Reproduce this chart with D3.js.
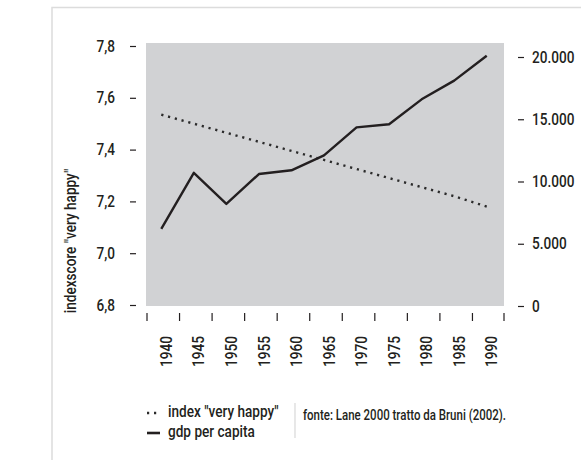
<!DOCTYPE html>
<html>
<head>
<meta charset="utf-8">
<script src="https://cdn.jsdelivr.net/npm/d3@7"></script>
<style>
  body { margin: 0; background: #fff; }
  text { font-family: Roboto, "DejaVu Sans", sans-serif; font-weight: 500; fill: #231f20; }
</style>
</head>
<body>
<div class="chart"></div>
<script>
// data
let years = [1940, 1945, 1950, 1955, 1960, 1965, 1970, 1975, 1980, 1985, 1990];
let happy = [7.535, 7.50, 7.465, 7.43, 7.395, 7.36, 7.325, 7.29, 7.255, 7.22, 7.18];
let gdp = [6200, 10700, 8200, 10600, 10900, 12100, 14350, 14600, 16600, 18100, 20100];
let leftTicks = [6.8, 7.0, 7.2, 7.4, 7.6, 7.8];
let rightTicks = [0, 5000, 10000, 15000, 20000];
let legendLabels = ["index \"very happy\"", "gdp per capita"];
let sourceLabel = "fonte: Lane 2000 tratto da Bruni (2002).";
let yTitle = "indexscore \"very happy\"";

let it = d3.formatLocale({ decimal: ",", thousands: ".", grouping: [3], currency: ["", "€"] });
let fmtLeft = it.format(".1f");
let fmtRight = it.format(",.0f");

let plot = { left: 146, right: 504, top: 43, bottom: 306 };

let svg = d3
    .select(".chart")
    .append("svg")
    .attr("width", 581)
    .attr("height", 460);

// light frame
svg.append("path")
    .attr("d", "M52,460 V7.5 H581")
    .attr("fill", "none")
    .attr("stroke", "#dcdcdc")
    .attr("stroke-width", 1.5);

let x = d3
    .scaleBand()
    .domain(years)
    .range([plot.left, plot.right]);

let yL = d3
    .scaleLinear()
    .domain([6.8, 7.8])
    .range([305, 46]);

let yR = d3
    .scaleLinear()
    .domain([0, 20000])
    .range([306, 57]);

svg.append("rect")
    .attr("x", plot.left)
    .attr("y", plot.top)
    .attr("width", plot.right - plot.left)
    .attr("height", plot.bottom - plot.top)
    .attr("fill", "#d1d2d4");

// left axis
let gl = svg.append("g")
    .attr("transform", "translate(136,0)")
    .call(d3.axisLeft(yL).tickValues(leftTicks).tickFormat(fmtLeft).tickSize(6).tickPadding(15));

// right axis
let gr = svg.append("g")
    .attr("transform", "translate(518,0)")
    .call(d3.axisRight(yR).tickValues(rightTicks).tickFormat(fmtRight).tickSize(6).tickPadding(8));

// bottom axis: labels at band centres, ticks at band edges
let gb = svg.append("g")
    .attr("transform", "translate(0,313)")
    .call(d3.axisBottom(x).tickSize(0).tickPadding(0));

gb.selectAll(".tick text")
    .attr("transform", "rotate(-90)")
    .attr("x", -23)
    .attr("y", 4)
    .attr("dy", "0.35em")
    .attr("text-anchor", "end");

gb.selectAll(".edge")
    .data(years.map(d => x(d)).concat([x.range()[1] - 1]))
    .enter()
    .append("line")
    .attr("class", "edge")
    .attr("x1", d => d + 1)
    .attr("x2", d => d + 1)
    .attr("y1", 0)
    .attr("y2", 8)
    .attr("stroke", "#231f20")
    .attr("stroke-width", 1.2);

[gl, gr, gb].forEach(g => {
    g.select(".domain").remove();
    g.selectAll(".tick line").attr("stroke", "#231f20").attr("stroke-width", 1.2);
    g.selectAll(".tick text").style("font-size", "16px").attr("fill", "#231f20");
});

let cx = d => x(d) + x.bandwidth() / 2;

// happiness index, dotted
svg.append("path")
    .datum(years)
    .attr("fill", "none")
    .attr("stroke", "#2b2b2b")
    .attr("stroke-width", 2.4)
    .attr("stroke-dasharray", "2.2,4.8")
    .attr("d", d3.line().x(d => cx(d) - 1).y((d, i) => yL(happy[i])));

// gdp per capita, solid
svg.append("path")
    .datum(years)
    .attr("fill", "none")
    .attr("stroke", "#231f20")
    .attr("stroke-width", 2.4)
    .attr("stroke-linejoin", "round")
    .attr("d", d3.line().x(d => cx(d) - 1).y((d, i) => yR(gdp[i])));

// y title
svg.append("text")
    .attr("transform", "translate(76,241) rotate(-90)")
    .attr("text-anchor", "middle")
    .style("font-size", "16px")
    .text(yTitle);

// legend
let legend = svg.append("g");

legend.append("line")
    .attr("x1", 147).attr("x2", 160)
    .attr("y1", 413).attr("y2", 413)
    .attr("stroke", "#2b2b2b")
    .attr("stroke-width", 2.4)
    .attr("stroke-dasharray", "2.2,4.8");

legend.append("line")
    .attr("x1", 147).attr("x2", 160)
    .attr("y1", 433).attr("y2", 433)
    .attr("stroke", "#231f20")
    .attr("stroke-width", 2.6);

legend.selectAll("text")
    .data(legendLabels)
    .enter()
    .append("text")
    .attr("x", 168)
    .attr("y", (d, i) => 417 + i * 20)
    .style("font-size", "16px")
    .text(d => d);

svg.append("line")
    .attr("x1", 295).attr("x2", 295)
    .attr("y1", 403).attr("y2", 438)
    .attr("stroke", "#d8d8d8")
    .attr("stroke-width", 1.2);

svg.append("text")
    .attr("class", "source")
    .attr("x", 303)
    .attr("y", 420)
    .style("font-size", "14px")
    .text(sourceLabel);

// the original uses a condensed face: squeeze every label horizontally
svg.selectAll("text").each(function () {
    let w = this.getComputedTextLength();
    let k = this.classList.contains("source") ? 0.82 : 0.85;
    d3.select(this)
        .attr("textLength", w * k)
        .attr("lengthAdjust", "spacingAndGlyphs");
});
</script>
</body>
</html>
